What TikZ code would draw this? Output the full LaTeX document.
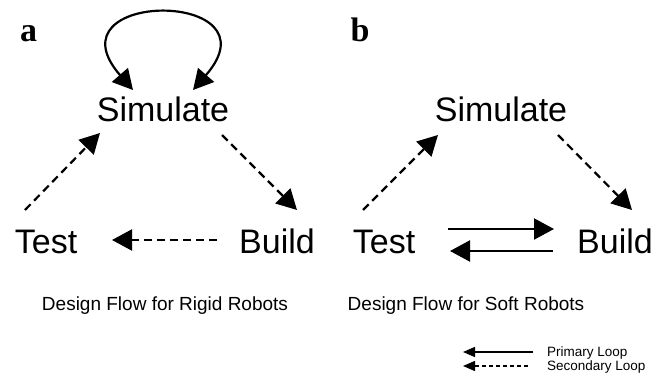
\documentclass[tikz,border=0pt]{standalone}
\usepackage{fontspec}
\setmainfont{Liberation Sans}
\newfontfamily\panelfont{Liberation Serif}
\usetikzlibrary{arrows.meta}
\begin{document}
\begin{tikzpicture}[x=1pt,y=-1pt,
  big/.style={inner sep=0pt,anchor=base,font=\fontsize{34}{40}\selectfont},
  captiontext/.style={inner sep=0pt,anchor=base,font=\fontsize{19}{22}\selectfont},
  leg/.style={inner sep=0pt,anchor=base west,font=\fontsize{13.5}{16}\selectfont},
  panel/.style={inner sep=0pt,anchor=base,font=\panelfont\bfseries\fontsize{34}{40}\selectfont},
  solidarr/.style={line width=2.2pt,-{Triangle[length=20pt,width=21pt]}},
  dasharr/.style={line width=2.2pt,dash pattern=on 8pt off 5pt,-{Triangle[length=20pt,width=21pt]}},
  legsolid/.style={line width=1.4pt,-{Triangle[length=12pt,width=10pt]}},
  legdash/.style={line width=1.4pt,dash pattern=on 4pt off 3pt,-{Triangle[length=12pt,width=10pt]}}]
\useasboundingbox (0,0) rectangle (656,385);
% panel a
\node[panel] (la) at (28.5,42) {a};
\node[big] (sa) at (163,122) {Simulate};
\node[big] (ta) at (46,253) {Test};
\node[big] (ba) at (277,253) {Build};
\node[captiontext] (ca) at (165,310) {Design Flow for Rigid Robots};
\draw[line width=2.2pt,{Triangle[length=20pt,width=21pt]}-{Triangle[length=20pt,width=21pt]}]
  ([shift={(-30,-32)}]sa.base) .. controls ([shift={(-118,-133)}]sa.base) and ([shift={(118,-133)}]sa.base) .. ([shift={(30,-32)}]sa.base);
\draw[dasharr] ([shift={(-21,-43)}]ta.base) -- ([shift={(-63,11)}]sa.base);
\draw[dasharr] ([shift={(59,13)}]sa.base) -- ([shift={(20,-43)}]ba.base);
\draw[dasharr] ([shift={(-60,-13)}]ba.base) -- ([shift={(66,-13)}]ta.base);
% panel b
\node[panel] (lb) at (360,42) {b};
\node[big] (sb) at (501,122) {Simulate};
\node[big] (tb) at (384,253) {Test};
\node[big] (bb) at (615,253) {Build};
\node[captiontext] (cb) at (466,310) {Design Flow for Soft Robots};
\draw[dasharr] ([shift={(-21,-43)}]tb.base) -- ([shift={(-63,13)}]sb.base);
\draw[dasharr] ([shift={(57,13)}]sb.base) -- ([shift={(17,-43)}]bb.base);
\draw[solidarr] ([shift={(64,-24)}]tb.base) -- ([shift={(-61,-24)}]bb.base);
\draw[solidarr] ([shift={(-62,-2)}]bb.base) -- ([shift={(66,-2)}]tb.base);
% legend
\node[leg] (pl) at (547,356) {Primary Loop};
\node[leg] (sl) at (547,370) {Secondary Loop};
\draw[legsolid] ([shift={(-14,-4)}]pl.base west) -- ([shift={(-84,-4)}]pl.base west);
\draw[legdash] ([shift={(-19,-4)}]sl.base west) -- ([shift={(-84,-4)}]sl.base west);
\end{tikzpicture}
\end{document}
